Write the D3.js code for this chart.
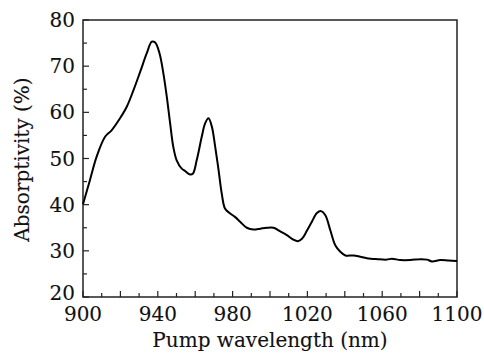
<!DOCTYPE html>
<html><head><meta charset="utf-8">
<script src="https://cdn.jsdelivr.net/npm/d3@7"></script>
<style>body{margin:0;background:#fff}svg{display:block}</style>
</head><body>
<script>
const wavelength = [900,903.7,907.3,911.8,915.3,919.8,923.4,927,930.6,934.1,936.8,938.6,940.9,943,944.8,946.6,948.3,950.1,952.8,954.6,956.9,958.7,960.8,963.5,965.3,967.1,968.9,970.7,972.5,974.2,976,978.7,981.4,984,987.6,991.2,994.8,998.3,1001.9,1005.5,1009,1012.6,1014.9,1017.1,1019.8,1022.4,1025.1,1027.3,1029.6,1032.3,1034.9,1037.6,1040.3,1044.7,1048.3,1051.8,1057.2,1062.5,1065.2,1069.7,1075,1080.4,1084,1086.6,1091.1,1095.5,1100];
const absorptivity = [40.1,45.3,50.4,54.7,56.1,58.7,61.2,64.8,68.8,72.8,75.3,75.1,72.8,68.4,63.4,57.6,52.5,49.6,47.8,47.3,46.6,46.7,49.6,54.7,57.6,58.7,56.9,52.5,47.5,42.4,39.1,38.1,37.3,36.3,35.0,34.6,34.8,35.0,35.0,34.2,33.4,32.4,32.1,32.6,34.4,36.3,38.2,38.6,37.7,34.4,31.2,29.8,29.0,29.0,28.7,28.4,28.2,28.1,28.3,28.0,28.0,28.2,28.1,27.7,28.0,27.9,27.8];
const xTickLabels = [900,940,980,1020,1060,1100];
const yTickLabels = [20,30,40,50,60,70,80];

const W=484,H=356, L=83, R=457, T=20, B=297;
const svg = d3.select("body").append("svg").attr("width",W).attr("height",H);
const x = d3.scaleLinear().domain([900,1100]).range([L,R]);
const y = d3.scaleLinear().domain([20,80]).range([B,T]);
const font = "'DejaVu Serif', 'Liberation Serif', serif";
const fs = 20;

const xMinor = d3.range(900,1101,10);
const yMinor = d3.range(20,81,5);
const gx = svg.append("g");
xMinor.forEach(v=>{
  const len = (v%20===0)?6:4;
  gx.append("line").attr("x1",x(v)).attr("x2",x(v)).attr("y1",B).attr("y2",B-len).attr("stroke","#222").attr("stroke-width",1.2);
});
yMinor.forEach(v=>{
  const len = (v%10===0)?6:4;
  gx.append("line").attr("x1",L).attr("x2",L+len).attr("y1",y(v)).attr("y2",y(v)).attr("stroke","#222").attr("stroke-width",1.2);
});
svg.append("rect").attr("x",L).attr("y",T).attr("width",R-L).attr("height",B-T).attr("fill","none").attr("stroke","#222").attr("stroke-width",1.5);

function styleText(s){ return s.attr("font-family",font).attr("font-size",fs).attr("fill","#111").attr("stroke","#111").attr("stroke-width",0.12); }

styleText(svg.append("g").selectAll("text").data(xTickLabels).join("text")
  .attr("x",d=>x(d)).attr("y",B+24).attr("text-anchor","middle")).text(d=>d);
styleText(svg.append("g").selectAll("text").data(yTickLabels).join("text")
  .attr("x",L-8).attr("y",d=>d===20? y(d)+3 : y(d)+7).attr("text-anchor","end")).text(d=>d);

styleText(svg.append("text").attr("x",(L+R)/2).attr("y",347).attr("text-anchor","middle")).text("Pump wavelength (nm)");
styleText(svg.append("text").attr("transform",`translate(29,${(T+B)/2+1}) rotate(-90)`).attr("text-anchor","middle")).text("Absorptivity (%)");

const data = wavelength.map((w,i)=>[w,absorptivity[i]]);
svg.append("path").datum(data)
  .attr("d", d3.line().x(d=>x(d[0])).y(d=>y(d[1])).curve(d3.curveCatmullRom))
  .attr("fill","none").attr("stroke","#000").attr("stroke-width",2);
</script>
</body></html>
